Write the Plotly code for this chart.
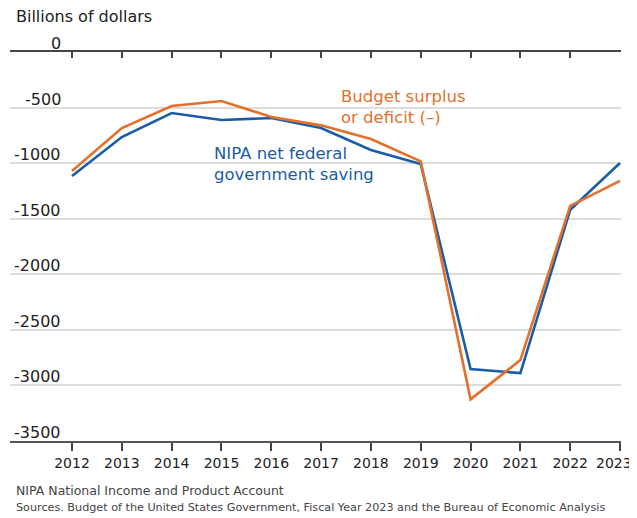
import plotly.graph_objects as go

years = list(range(2012, 2024))
year_labels = ["2012", "2013", "2014", "2015", "2016", "2017", "2018", "2019",
               "2020", "2021", "2022", "2023"]
nipa_saving = [-1116, -765, -549, -612, -594, -684, -882, -1008, -2853, -2889, -1420, -999]
budget_deficit = [-1071, -684, -486, -441, -585, -660, -783, -984, -3125, -2772, -1385, -1160]
y_ticks = [0, -500, -1000, -1500, -2000, -2500, -3000, -3500]
y_tick_labels = ["0", "-500", "-1000", "-1500", "-2000", "-2500", "-3000", "-3500"]

BLUE = "#1a5ca8"
ORANGE = "#e3702b"
FONT = "DejaVu Sans"

fig = go.Figure()
fig.add_trace(go.Scatter(x=years, y=nipa_saving, mode="lines",
                         line=dict(color=BLUE, width=2.6), showlegend=False))
fig.add_trace(go.Scatter(x=years, y=budget_deficit, mode="lines",
                         line=dict(color=ORANGE, width=2.6), showlegend=False))
# invisible trace for the top (zero-line) tick axis
fig.add_trace(go.Scatter(x=years, y=[None]*len(years), xaxis="x2", yaxis="y",
                         mode="lines", showlegend=False, hoverinfo="skip"))

X_RANGE = [2010.755, 2023.02]

# the last year label is drawn as an annotation so it can be nudged inside the page
tick_text = year_labels[:-1] + [""]

# page body has an 8px default margin, so the figure is offset by 8px
fig.update_layout(
    width=629, height=510,
    margin=dict(l=2, r=16, t=44, b=77, autoexpand=False),
    paper_bgcolor="white", plot_bgcolor="white",
    font=dict(family=FONT, color="#222222"),
    xaxis=dict(range=X_RANGE, tickvals=years, ticktext=tick_text,
               ticks="outside", ticklen=8, tickwidth=1.5, tickcolor="#444444",
               showline=True, linecolor="#555555", linewidth=2,
               showgrid=False, zeroline=False, ticklabeloverflow="allow",
               tickfont=dict(size=14, color="#222222", family=FONT)),
    xaxis2=dict(range=X_RANGE, overlaying="x", side="top", anchor="y",
                tickvals=years[:-1], ticks="inside", ticklen=6, tickwidth=1.5,
                tickcolor="#444444", showticklabels=False, showline=True,
                linecolor="#444444", linewidth=2, showgrid=False, zeroline=False),
    yaxis=dict(range=[-3500, 0], tickvals=y_ticks, showticklabels=False,
               showgrid=True, gridcolor="#dcdcdc", gridwidth=1.5,
               zeroline=False, showline=False, ticks=""),
)

fig.add_annotation(x=years[-1], xref="x", y=0, yref="paper", text=year_labels[-1],
                   xanchor="right", xshift=14, yanchor="middle", yshift=-22,
                   showarrow=False, font=dict(size=14, color="#222222", family=FONT))

for v, t in zip(y_ticks, y_tick_labels):
    fig.add_annotation(x=0.087, xref="paper", y=v, yref="y", text=t,
                       xanchor="right", yanchor="bottom", showarrow=False,
                       font=dict(size=16, color="#222222", family=FONT), yshift=-3)

fig.add_annotation(x=0, xref="paper", y=1, yref="paper", yshift=36, xshift=4,
                   text="Billions of dollars", showarrow=False, xanchor="left",
                   yanchor="middle", font=dict(size=16, color="#222222", family=FONT))

fig.add_annotation(x=2017.36, y=-495, text="Budget surplus<br>or deficit (–)",
                   showarrow=False, xanchor="left", yanchor="middle", align="left",
                   font=dict(size=16.5, color=ORANGE, family=FONT))
fig.add_annotation(x=2014.8, y=-1004, text="NIPA net federal<br>government saving",
                   showarrow=False, xanchor="left", yanchor="middle", align="left",
                   font=dict(size=16.5, color=BLUE, family=FONT))

fig.add_annotation(x=0, xref="paper", y=0, yref="paper", yshift=-49, xshift=4,
                   text="NIPA National Income and Product Account",
                   showarrow=False, xanchor="left", yanchor="middle",
                   font=dict(size=12.5, color="#444444", family=FONT))
fig.add_annotation(x=0, xref="paper", y=0, yref="paper", yshift=-66, xshift=4,
                   text="Sources. Budget of the United States Government, Fiscal Year 2023 and the Bureau of Economic Analysis",
                   showarrow=False, xanchor="left", yanchor="middle",
                   font=dict(size=11.2, color="#444444", family=FONT))

fig.write_html("out.html")
